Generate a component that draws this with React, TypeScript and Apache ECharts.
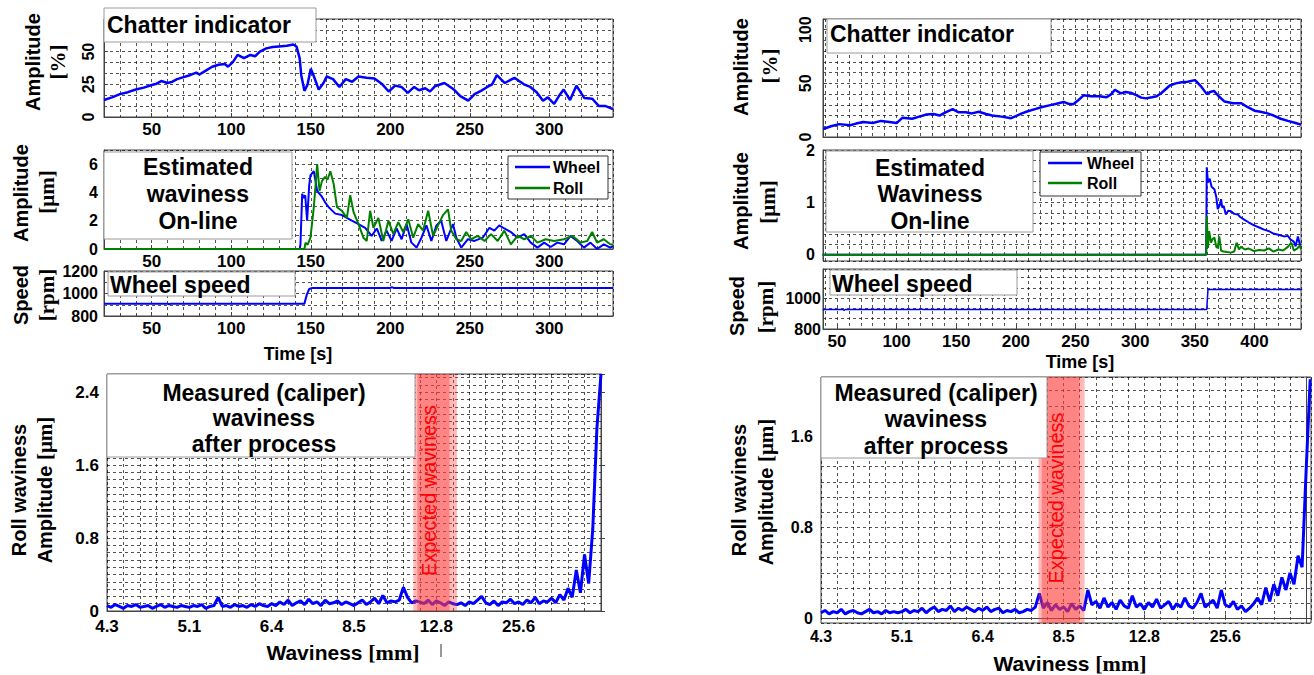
import React, { useEffect, useRef } from 'react';
import * as echarts from 'echarts';

const FONT = "'Liberation Sans', Arial, Helvetica, sans-serif";
const SERIF = "'Liberation Serif', 'Times New Roman', serif";
const BLUE = '#0000ff';
const GREEN = '#008000';

// ---------- Left: chatter indicator ----------
const chatterLeftT = [20, 25, 30, 35, 40, 45, 50, 53, 56, 60, 63, 66, 70, 74, 78, 80, 84, 88, 92, 96, 98, 101, 104, 108, 112, 115, 118, 122, 126, 130, 135, 139, 141, 143, 144, 146, 148, 150, 152, 155, 158, 160, 164, 168, 172, 176, 180, 185, 190, 195, 199, 203, 207, 211, 215, 218, 222, 225, 228, 234, 240, 244, 249, 253, 257, 261, 264, 267, 272, 278, 284, 288, 292, 296, 299, 303, 306, 309, 313, 317, 322, 327, 331, 335, 340];
const chatterLeftV = [13, 15, 17.5, 19, 21, 22.5, 24.5, 25.5, 27.5, 26, 27, 29, 30.5, 32, 34, 32.5, 35.5, 38.5, 40, 40.5, 38.5, 42, 47.5, 45, 47.5, 46.5, 50, 52.5, 53.5, 54, 54.5, 55.5, 54, 45, 32, 20, 25, 37, 31, 21, 26, 31, 29, 23, 29, 27, 31, 30, 29.5, 25, 19.5, 24, 23, 18.5, 23, 20.5, 22, 19.5, 23.5, 26, 21, 16, 12.5, 17.5, 20, 23, 25, 32, 26, 30, 25, 23, 19, 12.5, 15, 10, 16, 21, 13, 24, 14.5, 14, 8.5, 8.5, 6];

// ---------- Left: estimated waviness ----------
const wheelLeftT = [20, 143, 143.5, 144.6, 145.5, 146.5, 147.7, 149, 149.8, 151.9, 153, 154, 157, 159, 161.3, 165.4, 169.6, 175.8, 180, 184.2, 188.3, 191.5, 194.6, 197.7, 200.8, 204, 207.1, 210.2, 213.3, 216.5, 219.6, 222.7, 225.8, 229, 232, 235.2, 239.4, 241.5, 244.6, 248.8, 252.9, 258.1, 262.3, 265.4, 268.5, 271.7, 275.8, 280, 284.2, 288.3, 292.5, 296.7, 300.8, 305, 309.2, 313.3, 317.5, 321.7, 325.8, 330, 334.2, 338.3, 340];
const wheelLeftV = [0, 0, 0.3, 3.9, 3.6, 3.8, 2.0, 4.5, 5.2, 5.5, 4.8, 4.1, 3.7, 3.3, 2.95, 2.5, 2.4, 2.0, 1.76, 1.5, 0.93, 1.45, 0.57, 1.3, 0.57, 1.45, 0.69, 1.76, 0.45, 0.1, 0.8, 1.67, 0.57, 1.67, 2.0, 0.57, 1.76, 0.8, 0.1, 0.69, 0.57, 0.8, 1.5, 1.3, 1.67, 1.45, 1.2, 0.8, 1.05, 0.45, 0.1, 0.45, 0.14, 0.45, 0.33, 0.93, 0.57, 0.1, 0.45, 0.0, 0.33, 0.1, 0.2];
const rollLeftT = [20, 146, 146.7, 148, 149.8, 151.9, 153, 154, 155.5, 157, 159, 160.5, 162.3, 164.4, 166.5, 169.6, 172.7, 174.8, 176.9, 180, 183.1, 185.2, 187.3, 189.4, 192.5, 195.6, 198.8, 201.9, 205, 208.1, 211.3, 214.4, 217.5, 220.6, 223.8, 226.9, 230, 233.1, 236.3, 238.3, 241.5, 244.6, 247.7, 250.8, 255, 259.2, 263.3, 267.5, 271.7, 275.8, 280, 284.2, 288.3, 292.5, 297.7, 302.9, 309.2, 314.4, 319.6, 323.8, 326.9, 330, 334.2, 338.3, 340];
const rollLeftV = [0, 0, 0.45, 0.3, 0.8, 2.95, 4.5, 6.0, 4.1, 4.8, 5.1, 4.9, 5.5, 4.6, 2.95, 2.7, 2.2, 3.8, 2.6, 1.76, 0.8, 0.57, 2.7, 1.5, 2.2, 0.57, 2.0, 1.05, 1.9, 1.2, 2.1, 0.8, 1.76, 1.3, 2.7, 0.93, 1.67, 2.4, 2.8, 1.3, 0.69, 0.57, 1.2, 0.69, 0.93, 0.57, 1.05, 0.57, 1.3, 0.33, 0.93, 0.69, 0.93, 0.45, 0.69, 0.57, 0.69, 0.93, 0.45, 0.57, 1.2, 0.45, 0.69, 0.33, 0.3];

// ---------- Left: wheel speed ----------
const speedLeftT = [20, 60, 61, 62, 146, 147.5, 149, 151, 200, 201, 202, 340];
const speedLeftV = [910, 910, 903, 910, 910, 990, 1040, 1050, 1050, 1056, 1050, 1050];

// ---------- Right: chatter indicator ----------
const chatterRightT = [38.5, 45, 52, 61, 66, 72, 80, 87, 94, 100, 105, 113, 119, 125, 131, 136, 141, 147, 152, 158, 163, 169, 175, 180, 188, 196, 200, 205, 210, 216, 222, 228, 234, 240, 244, 248, 252, 257, 263, 270, 276, 280, 283, 288, 292, 297, 301, 305, 309, 314, 318, 322, 326, 329, 334, 339, 344, 350, 352, 355, 358, 360, 363, 366, 370, 375, 382, 389, 394, 400, 405, 411, 416, 422, 428, 434.5, 439];
const chatterRightV = [7.5, 10, 12, 11, 12.5, 14, 13, 15, 14, 13, 18, 17, 19, 21, 21.5, 20, 23, 26, 23, 23, 22, 23.5, 21.5, 20, 19, 17.5, 19.5, 22, 24, 26, 28, 29.5, 31, 32.7, 31, 30.5, 34, 39, 38, 38, 37, 40, 44, 40.7, 42, 41, 39, 36.7, 36, 37, 38, 41, 45, 48, 50, 51, 51.5, 53, 51, 47.5, 43, 40, 42, 43, 38, 33, 31.5, 31.5, 28, 24.5, 23.5, 22, 20, 17, 15, 13, 11.5];

// ---------- Right: estimated waviness ----------
const wheelRightT = [38, 359.5, 360, 361, 362.5, 364, 366.4, 368, 369.2, 371, 372, 373, 374.2, 376, 378, 380.3, 383, 386, 388, 391.4, 395, 399.7, 404, 408, 412, 416.4, 420, 424.8, 428, 430.3, 433, 434.5, 436.4, 438, 439];
const wheelRightV = [0, 0, 1.67, 1.38, 1.45, 1.3, 1.25, 1.1, 0.87, 0.95, 1.06, 0.9, 0.93, 0.77, 0.84, 0.83, 0.78, 0.77, 0.72, 0.67, 0.62, 0.56, 0.52, 0.48, 0.45, 0.4, 0.38, 0.35, 0.36, 0.29, 0.25, 0.16, 0.35, 0.2, 0.18];
const rollRightT = [38, 359.5, 360, 361, 362, 363.6, 365, 366.4, 368, 369.2, 370.5, 372, 374, 377, 380.3, 383, 385, 387, 388.6, 392, 395, 399.7, 404, 408, 412, 416, 420, 424, 428, 431, 433, 436, 438, 439];
const rollRightV = [0, 0, 0.74, 0.13, 0.45, 0.23, 0.3, 0.33, 0.15, 0.13, 0.35, 0.08, 0.06, 0.05, 0.04, 0.06, 0.23, 0.1, 0.15, 0.1, 0.12, 0.07, 0.09, 0.08, 0.12, 0.06, 0.1, 0.08, 0.15, 0.23, 0.08, 0.12, 0.18, 0.1];

// ---------- Right: wheel speed ----------
const speedRightT = [38, 55, 56, 57, 120, 121, 122, 360, 361, 440];
const speedRightV = [927, 927, 920, 927, 927, 931, 927, 927, 1056, 1056];

// ---------- Measured waviness spectra (wavenumber k: 6 -> 0, step 0.05) ----------
const waveLabels = ['4.3', '5.1', '6.4', '8.5', '12.8', '25.6'];
const specKStart = 6;
const specKStep = 0.05;
const spectrumLeft = [
  0.06, 0.04, 0.07, 0.05, 0.03, 0.06, 0.05, 0.07, 0.04, 0.05, 0.06, 0.03, 0.05, 0.07, 0.04, 0.06, 0.05, 0.04, 0.06, 0.05,
  0.04, 0.06, 0.05, 0.07, 0.03, 0.05, 0.06, 0.15, 0.05, 0.06, 0.04, 0.07, 0.05, 0.06, 0.04, 0.07, 0.05, 0.08, 0.06, 0.05,
  0.08, 0.06, 0.10, 0.07, 0.12, 0.06, 0.09, 0.11, 0.07, 0.13, 0.08, 0.10, 0.06, 0.12, 0.08, 0.09, 0.11, 0.07, 0.10, 0.08,
  0.06, 0.09, 0.12, 0.07, 0.10, 0.14, 0.08, 0.17, 0.09, 0.11, 0.10, 0.12, 0.26, 0.15, 0.09, 0.11, 0.10, 0.08, 0.12, 0.07,
  0.11, 0.09, 0.06, 0.10, 0.08, 0.07, 0.09, 0.06, 0.10, 0.08, 0.12, 0.16, 0.09, 0.07, 0.11, 0.06, 0.10, 0.09, 0.13, 0.08,
  0.10, 0.07, 0.12, 0.09, 0.15, 0.08, 0.11, 0.10, 0.14, 0.09, 0.18, 0.12, 0.25, 0.15, 0.45, 0.20, 0.62, 0.30, 0.90, 2.00, 2.60
];
const spectrumRight = [
  0.05, 0.07, 0.04, 0.06, 0.05, 0.08, 0.04, 0.06, 0.07, 0.05, 0.04, 0.06, 0.08, 0.05, 0.06, 0.04, 0.07, 0.05, 0.06, 0.05,
  0.06, 0.08, 0.05, 0.07, 0.06, 0.09, 0.05, 0.08, 0.10, 0.06, 0.08, 0.07, 0.11, 0.06, 0.09, 0.07, 0.10, 0.08, 0.06, 0.09,
  0.07, 0.10, 0.06, 0.08, 0.09, 0.05, 0.07, 0.06, 0.08, 0.05, 0.06, 0.08, 0.07, 0.10, 0.22, 0.09, 0.14, 0.07, 0.12, 0.08,
  0.10, 0.06, 0.13, 0.08, 0.11, 0.07, 0.25, 0.12, 0.15, 0.09, 0.18, 0.10, 0.14, 0.08, 0.16, 0.11, 0.09, 0.20, 0.10, 0.13,
  0.08, 0.14, 0.10, 0.17, 0.09, 0.12, 0.15, 0.08, 0.13, 0.10, 0.18, 0.11, 0.09, 0.14, 0.22, 0.10, 0.13, 0.16, 0.09, 0.25,
  0.12, 0.10, 0.15, 0.08, 0.11, 0.06, 0.09, 0.13, 0.18, 0.12, 0.27, 0.15, 0.30, 0.20, 0.36, 0.25, 0.40, 0.30, 0.55, 0.45, 1.30, 2.10
];
// expected waviness band (outer k from/to, inner k from/to)
const bandLeft = [2.28, 1.75, 2.23, 1.84];
const bandRight = [3.31, 2.74, 3.27, 2.80];

const zip = (t: number[], v: number[]) => t.map((x, i) => [x, v[i]]);
const spec = (v: number[]) => v.map((y, i) => [+(specKStart - i * specKStep).toFixed(2), y]);

const grids = [
  { left: 104, top: 19, width: 509, height: 98 },
  { left: 104, top: 150, width: 509, height: 99 },
  { left: 104, top: 271, width: 509, height: 45 },
  { left: 107, top: 374, width: 494, height: 237 },
  { left: 823, top: 19, width: 478, height: 118 },
  { left: 823, top: 150, width: 478, height: 111 },
  { left: 823, top: 269, width: 478, height: 60 },
  { left: 821, top: 377, width: 491, height: 246 },
].map((g) => ({ ...g, show: true, borderColor: '#444', borderWidth: 1, backgroundColor: '#fff' }));

const dash = { show: true, lineStyle: { color: '#000', width: 0.8, type: [3, 3] as any, opacity: 0.85 } };
const lab = (size: number) => ({ color: '#000', fontFamily: FONT, fontWeight: 'bold' as any, fontSize: size });

function ax(gridIndex: number, o: any) {
  const { fs = 16, minor = 5, labelShow = true, formatter, rotate = 0, margin = 6, ...rest } = o;
  return {
    type: 'value',
    gridIndex,
    ...rest,
    axisLine: { show: true, lineStyle: { color: '#444', width: 1 } },
    axisTick: { show: true, inside: true, length: 4, lineStyle: { color: '#444' } },
    axisLabel: { show: labelShow, ...lab(fs), formatter, rotate, margin },
    splitLine: dash,
    minorTick: { show: false, splitNumber: minor },
    minorSplitLine: dash,
  };
}

const fmtMult = (m: number, maxShown = Infinity) => (v: number) => {
  const q = v / m;
  return Math.abs(q - Math.round(q)) < 1e-6 && v <= maxShown + 1e-9 ? String(+v.toFixed(2)) : '';
};
const fmtWave = (v: number) => {
  const r = Math.round(v);
  return Math.abs(v - r) < 1e-6 && r >= 1 && r <= 6 ? waveLabels[6 - r] : '';
};

const xAxes = [
  ax(0, { min: 20, max: 340, minInterval: 50, maxInterval: 50, formatter: fmtMult(50), fs: 17, margin: 4 }),
  ax(1, { min: 20, max: 340, minInterval: 50, maxInterval: 50, formatter: fmtMult(50), fs: 17, margin: 4 }),
  ax(2, { min: 20, max: 340, minInterval: 50, maxInterval: 50, formatter: fmtMult(50), fs: 17, margin: 4 }),
  ax(3, { min: 0, max: 6, interval: 1, inverse: true, formatter: fmtWave, fs: 17, margin: 7 }),
  ax(4, { min: 38.3, max: 439, minInterval: 50, maxInterval: 50, labelShow: false }),
  ax(5, { min: 38.3, max: 439, minInterval: 50, maxInterval: 50, labelShow: false }),
  ax(6, { min: 38.3, max: 439, minInterval: 50, maxInterval: 50, formatter: fmtMult(50), fs: 17, margin: 4 }),
  ax(7, { min: -0.06, max: 6, minInterval: 1, maxInterval: 1, inverse: true, formatter: fmtWave, fs: 16, margin: 5 }),
];
const yAxes = [
  ax(0, { min: 0, max: 75, interval: 25, minor: 3, formatter: fmtMult(25, 50), rotate: 90, fs: 16, margin: 8 }),
  ax(1, { min: 0, max: 7, interval: 2, minor: 2, formatter: fmtMult(2), fs: 16 }),
  ax(2, { min: 800, max: 1200, interval: 200, minor: 2, formatter: fmtMult(200), fs: 16 }),
  ax(3, { min: 0, max: 2.6, interval: 0.8, minor: 10, formatter: fmtMult(0.8, 2.4), fs: 17, margin: 8 }),
  ax(4, { min: 0, max: 110, interval: 50, minor: 5, formatter: fmtMult(50, 100), rotate: 90, fs: 16, margin: 10 }),
  ax(5, { min: -0.12, max: 2, minInterval: 1, maxInterval: 1, minor: 5, formatter: fmtMult(1), fs: 16, margin: 8 }),
  ax(6, { min: 800, max: 1190, interval: 200, minor: 3, formatter: fmtMult(200, 1000), fs: 16, margin: 2 }),
  ax(7, { min: -0.04, max: 2.12, minInterval: 0.8, maxInterval: 0.8, minor: 6, formatter: fmtMult(0.8, 1.6), fs: 16, margin: 8 }),
];

function line(name: string, idx: number, data: any[], color: string, width: number, z = 3) {
  return {
    type: 'line', name, xAxisIndex: idx, yAxisIndex: idx, data, showSymbol: false, symbol: 'none',
    lineStyle: { color, width }, itemStyle: { color }, z, silent: true,
  };
}

function band(idx: number, b: number[]) {
  return {
    type: 'custom', xAxisIndex: idx, yAxisIndex: idx, z: 6, silent: true,
    data: [[b[0], b[1], b[2], b[3], 0]],
    encode: { x: [0, 1, 2, 3], y: 4 },
    renderItem: (params: any, api: any) => {
      const cs = params.coordSys;
      const px = (k: number) => api.coord([k, 0])[0];
      const o1 = px(api.value(0)), o2 = px(api.value(1));
      const i1 = px(api.value(2)), i2 = px(api.value(3));
      const l = Math.min(o1, o2), r = Math.max(o1, o2);
      const li = Math.min(i1, i2), ri = Math.max(i1, i2);
      return {
        type: 'group',
        children: [
          { type: 'rect', shape: { x: l, y: cs.y, width: r - l, height: cs.height }, style: { fill: 'rgba(255,60,60,0.36)' } },
          { type: 'rect', shape: { x: li, y: cs.y, width: ri - li, height: cs.height }, style: { fill: 'rgba(255,60,60,0.42)' } },
          {
            type: 'text', x: (l + r) / 2 - 6, y: cs.y + cs.height / 2 - 2, rotation: Math.PI / 2, z2: 10,
            style: { text: 'Expected waviness', fill: '#ff0000', opacity: 1, fontSize: 20, fontFamily: FONT, align: 'center', verticalAlign: 'middle', textAlign: 'center', textVerticalAlign: 'middle' },
          },
        ],
      };
    },
  };
}

const T = (text: string, x: number, y: number, size: number, extra: any = {}) => ({
  type: 'text', x, y, z: 100, rotation: extra.rotation || 0,
  style: {
    text, fill: '#000', fontFamily: FONT, fontWeight: 'bold', fontSize: size,
    align: extra.align || 'center', verticalAlign: 'middle', lineHeight: extra.lineHeight,
    rich: {
      s: { fontFamily: SERIF, fontWeight: 'bold', fontSize: size + 1, fill: '#000', lineHeight: extra.lineHeight },
    },
  },
});
const V = (text: string, x: number, y: number, size = 20) => T(text, x, y, size, { rotation: Math.PI / 2 });
const box = (x: number, y: number, w: number, h: number, stroke = '#9a9a9a') => ({
  type: 'rect', z: 99, shape: { x, y, width: w, height: h }, style: { fill: '#fff', stroke, lineWidth: 1 },
});
const seg = (x1: number, y1: number, x2: number, y2: number, color: string, w: number) => ({
  type: 'line', z: 100, shape: { x1, y1, x2, y2 }, style: { stroke: color, lineWidth: w },
});

const graphics = [
  // left axis names
  V('Amplitude', 33, 62), V('{s|[%]}', 58, 62),
  V('Amplitude', 21, 193), V('{s|[μm]}', 47, 192),
  V('Speed', 21, 295), V('{s|[rpm]}', 47, 295),
  V('Roll waviness', 19, 490), V('Amplitude {s|[μm]}', 45, 490),
  T('Time [s]', 298, 354, 18),
  T('Waviness {s|[mm]}', 343, 652, 21),
  seg(441, 644, 441, 657, '#333', 1),
  // right axis names
  V('Amplitude', 741, 67), V('{s|[%]}', 770, 66),
  V('Amplitude', 741, 201), V('{s|[μm]}', 768, 202),
  V('Speed', 737, 306), V('{s|[rpm]}', 766, 307),
  V('Roll waviness', 739, 490), V('Amplitude {s|[μm]}', 766, 492),
  T('Time [s]', 1080, 362, 18),
  T('Waviness {s|[mm]}', 1070, 663, 21),
  // left boxes
  box(104, 8, 212, 34), T('Chatter indicator', 107, 25, 23, { align: 'left' }),
  box(104, 152, 188, 87), T('Estimated\nwaviness\nOn-line', 198, 194, 23, { lineHeight: 27 }),
  box(108, 272, 187, 24), T('Wheel speed', 110, 285, 23, { align: 'left' }),
  box(107, 374, 308, 83), T('Measured (caliper)\nwaviness\nafter process', 264, 418, 23, { lineHeight: 25.5 }),
  box(508, 156, 100, 43, '#333'),
  seg(515, 167, 550, 167, BLUE, 2.5), T('Wheel', 553, 167, 16, { align: 'left' }),
  seg(515, 188, 550, 188, GREEN, 2.5), T('Roll', 553, 188, 16, { align: 'left' }),
  // right boxes
  box(827, 19, 224, 34), T('Chatter indicator', 830, 34, 23, { align: 'left' }),
  box(826, 151, 207, 81), T('Estimated\nWaviness\nOn-line', 930, 194, 23, { lineHeight: 26.5 }),
  box(830, 270, 187, 25), T('Wheel speed', 832, 284, 23, { align: 'left' }),
  box(821, 377, 226, 81), T('Measured (caliper)\nwaviness\nafter process', 936, 419, 23, { lineHeight: 26.5 }),
  box(1040, 152, 101, 44, '#333'),
  seg(1048, 163, 1082, 163, BLUE, 2.5), T('Wheel', 1087, 163, 16, { align: 'left' }),
  seg(1048, 183, 1082, 183, GREEN, 2.5), T('Roll', 1087, 183, 16, { align: 'left' }),
];

export default function App() {
  const ref = useRef<HTMLDivElement>(null);
  useEffect(() => {
    if (!ref.current) return;
    const chart = echarts.init(ref.current, undefined, { renderer: 'svg' });
    chart.setOption({
      animation: false,
      backgroundColor: '#fff',
      textStyle: { fontFamily: FONT },
      grid: grids,
      xAxis: xAxes,
      yAxis: yAxes,
      series: [
        line('Chatter', 0, zip(chatterLeftT, chatterLeftV), BLUE, 2.5),
        line('Wheel', 1, zip(wheelLeftT, wheelLeftV), BLUE, 2),
        line('Roll', 1, zip(rollLeftT, rollLeftV), GREEN, 2, 4),
        line('Speed', 2, zip(speedLeftT, speedLeftV), BLUE, 2),
        line('Measured', 3, spec(spectrumLeft), BLUE, 3),
        band(3, bandLeft),
        line('Chatter', 4, zip(chatterRightT, chatterRightV), BLUE, 2.5),
        line('Wheel', 5, zip(wheelRightT, wheelRightV), BLUE, 2),
        line('Roll', 5, zip(rollRightT, rollRightV), GREEN, 2, 4),
        line('Speed', 6, zip(speedRightT, speedRightV), BLUE, 1.5),
        line('Measured', 7, spec(spectrumRight), BLUE, 3),
        band(7, bandRight),
      ],
      graphic: graphics,
    });
    return () => chart.dispose();
  }, []);
  return <div ref={ref} style={{ position: 'absolute', left: 0, top: 0, width: 1314, height: 675 }} />;
}
